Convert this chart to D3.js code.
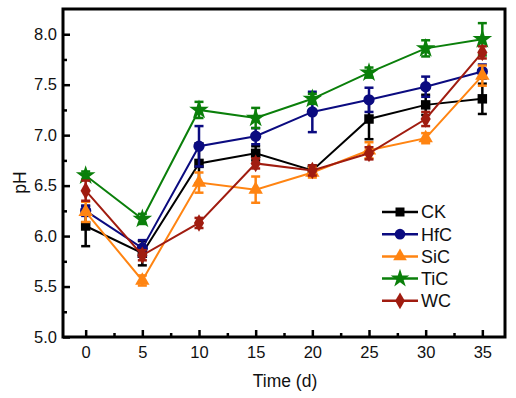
<!DOCTYPE html>
<html><head><meta charset="utf-8">
<script src="https://cdn.jsdelivr.net/npm/d3@7"></script>
<style>body{margin:0;background:#fff}svg{display:block}text{font-family:"Liberation Sans",Arial,sans-serif;fill:#111}</style>
</head><body><svg id="c" width="516" height="398"></svg>
<script>
const days = [0, 5, 10, 15, 20, 25, 30, 35];
const seriesNames = ["CK", "HfC", "SiC", "TiC", "WC"];
const CK  = [6.10, 5.83, 6.72, 6.82, 6.65, 7.16, 7.30, 7.36];
const HfC = [6.25, 5.88, 6.89, 6.99, 7.23, 7.35, 7.48, 7.63];
const SiC = [6.24, 5.56, 6.53, 6.46, 6.63, 6.85, 6.97, 7.59];
const TiC = [6.60, 6.17, 7.25, 7.17, 7.36, 7.62, 7.86, 7.95];
const WC  = [6.45, 5.81, 6.13, 6.72, 6.65, 6.82, 7.16, 7.82];
const errCK  = [0.20, 0.12, 0.20, 0.07, 0.05, 0.20, 0.10, 0.15];
const errHfC = [0.05, 0.08, 0.20, 0.08, 0.20, 0.12, 0.10, 0.07];
const errSiC = [0.10, 0.05, 0.10, 0.13, 0.05, 0.08, 0.05, 0.10];
const errTiC = [0.04, 0.05, 0.08, 0.10, 0.05, 0.05, 0.08, 0.16];
const errWC  = [0.10, 0.05, 0.05, 0.05, 0.05, 0.06, 0.07, 0.06];
const xTicks = [0, 5, 10, 15, 20, 25, 30, 35];
const yTicks = [5.0, 5.5, 6.0, 6.5, 7.0, 7.5, 8.0];

const series = [
  {name:"CK",  v:CK,  e:errCK,  color:"#000000", sym:d3.symbolSquare,   size:90},
  {name:"HfC", v:HfC, e:errHfC, color:"#0b0b80", sym:d3.symbolCircle,   size:100},
  {name:"SiC", v:SiC, e:errSiC, color:"#ff8412", sym:d3.symbolTriangle, size:90},
  {name:"TiC", v:TiC, e:errTiC, color:"#0a7f0a", sym:d3.symbolStar,     size:120},
  {name:"WC",  v:WC,  e:errWC,  color:"#a01c10", sym:d3.symbolDiamond,  size:90}
];

const L = 63, R = 505, T = 9, B = 337;
const svg = d3.select("#c");
const x = d3.scaleLinear().domain([-2, 37]).range([L, R]);
const y = d3.scaleLinear().domain([5.0, 8.25]).range([B, T]);

// axes (ticks inward)
svg.append("g").attr("transform", `translate(0,${B})`)
  .call(d3.axisBottom(x).tickValues(xTicks).tickSize(-7).tickPadding(9).tickFormat(d3.format("d")));
svg.append("g").attr("transform", `translate(0,${B})`)
  .call(d3.axisBottom(x).tickValues(d3.range(2.5, 37, 5)).tickSize(-4).tickFormat(""));
svg.append("g").attr("transform", `translate(${L},0)`)
  .call(d3.axisLeft(y).tickValues(yTicks).tickSize(-7).tickPadding(6).tickFormat(d3.format(".1f")));
svg.append("g").attr("transform", `translate(${L},0)`)
  .call(d3.axisLeft(y).tickValues(d3.range(5.25, 8.25, 0.5)).tickSize(-4).tickFormat(""));
svg.selectAll(".domain").remove();
svg.selectAll(".tick line").attr("stroke", "#000").attr("stroke-width", 2.5);
svg.selectAll(".tick text").attr("font-size", 16.5).attr("fill", "#111");

// frame
svg.append("rect").attr("x", L).attr("y", T).attr("width", R - L).attr("height", B - T)
  .attr("fill", "none").attr("stroke", "#000").attr("stroke-width", 3);

// series
const line = d3.line().x((d, i) => x(days[i])).y(d => y(d));
series.forEach(s => {
  const g = svg.append("g");
  g.append("path").attr("d", line(s.v)).attr("fill", "none").attr("stroke", s.color).attr("stroke-width", 2);
  s.v.forEach((v, i) => {
    const cx = x(days[i]), e = s.e[i];
    const y1 = y(v - e), y2 = y(v + e);
    g.append("line").attr("x1", cx).attr("x2", cx).attr("y1", y1).attr("y2", y2).attr("stroke", s.color).attr("stroke-width", 2.5);
    [y1, y2].forEach(yy => g.append("line").attr("x1", cx - 4.5).attr("x2", cx + 4.5).attr("y1", yy).attr("y2", yy)
      .attr("stroke", s.color).attr("stroke-width", 2.5));
    g.append("path").attr("d", d3.symbol(s.sym, s.size)()).attr("transform", `translate(${cx},${y(v)})`).attr("fill", s.color);
  });
});

// legend
const lg = svg.append("g");
series.forEach((s, i) => {
  const ly = 212 + i * 22.2;
  lg.append("line").attr("x1", 382).attr("x2", 418).attr("y1", ly).attr("y2", ly).attr("stroke", s.color).attr("stroke-width", 2.5);
  lg.append("path").attr("d", d3.symbol(s.sym, s.size * 0.9)()).attr("transform", `translate(400,${ly})`).attr("fill", s.color);
  lg.append("text").attr("x", 421).attr("y", ly).attr("dy", "0.36em").attr("font-size", 18).text(s.name);
});

// axis titles
svg.append("text").attr("x", x(17.5) + 1).attr("y", 387).attr("text-anchor", "middle").attr("font-size", 17.5).text("Time (d)");
svg.append("text").attr("transform", `translate(26,${y(6.5) - 3}) rotate(-90)`).attr("text-anchor", "middle").attr("font-size", 17.5).text("pH");
</script></body></html>
